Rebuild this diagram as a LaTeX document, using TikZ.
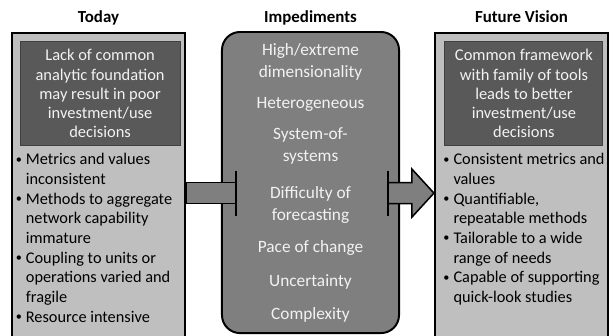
\documentclass[tikz,border=0pt]{standalone}
\usepackage{fontspec}
\setmainfont{Carlito}
\usetikzlibrary{positioning,calc}
\definecolor{panelgray}{RGB}{191,191,191}
\definecolor{notegray}{RGB}{89,89,89}
\definecolor{notedraw}{RGB}{64,64,64}
\definecolor{hubgray}{RGB}{127,127,127}
\definecolor{lighttext}{RGB}{242,242,242}
\newcommand{\itm}{\makebox[0.62em][l]{\raisebox{0.1em}{\scalebox{0.75}{\textbullet}}}}
\newcommand{\ind}{\makebox[0.62em]{}}

\begin{document}
\begin{tikzpicture}[x=0.025cm, y=-0.025cm,
  font=\fontsize{11.6}{14}\selectfont,
  panel/.style={draw, line width=1.5pt, fill=panelgray, inner sep=0pt,
               minimum width=4.325cm, minimum height=8cm, anchor=north},
  note/.style={draw=notedraw, line width=0.8pt, fill=notegray, text=lighttext,
               align=center, inner sep=0pt, minimum height=2.6cm,
               font=\fontsize{11.7}{13.6}\selectfont},
  heading/.style={font=\fontsize{12}{14}\selectfont\bfseries, inner sep=0pt,
                  text depth=0pt},
  bullets/.style={align=left, inner sep=0pt},
  hub/.style={draw, line width=1.4pt, fill=hubgray, rounded corners=0.45cm,
              minimum width=4.425cm, minimum height=7.525cm, anchor=north},
  blockarrow/.style={draw, line width=1.1pt, fill=hubgray},
  tee/.style={draw, line width=1.4pt},
  ]
  \useasboundingbox (0,0) rectangle (610,335);
  \clip (0,0) rectangle (610,335);

  % the three columns
  \node[panel] (today) at (98.5,32) {};
  \node[panel] (vision) at (521.5,32) {};
  \node[hub] (imped) at (310.5,31) {};

  \node[heading, above=2.4mm of today] {Today};
  \node[heading, above=2.4mm of today.north -| imped] {Impediments};
  \node[heading, above=2.4mm of vision] {Future Vision};

  % dark summary boxes
  \node[note, minimum width=4cm, below=2.25mm of today.north, xshift=0.04cm] (lack)
    {Lack of common\\analytic foundation\\may result in poor\\investment/use\\decisions};
  \node[note, minimum width=3.95cm, below=2.25mm of vision.north, xshift=0.06cm] (framework)
    {Common framework\\with family of tools\\leads to better\\investment/use\\decisions};

  % bullet lists
  \node[bullets, below=1.75mm of lack.south west, anchor=north west, xshift=-0.1cm] (todaylist)
    {\itm Metrics and values\\
     \ind inconsistent\\
     \itm Methods to aggregate\\
     \ind network capability\\
     \ind immature\\
     \itm Coupling to units or\\
     \ind operations varied and\\
     \ind fragile\\
     \itm Resource intensive};
  \node[bullets, below=1.75mm of framework.south west, anchor=north west, xshift=-0.03cm] (visionlist)
    {\itm Consistent metrics and\\
     \ind values\\
     \itm Quantifiable,\\
     \ind repeatable methods\\
     \itm Tailorable to a wide\\
     \ind range of needs\\
     \itm Capable of supporting\\
     \ind quick-look studies};

  % impediments
  \node[align=center, inner sep=0pt, text=lighttext, font=\fontsize{12.3}{15.9}\selectfont,
        below=3mm of imped.north] (hurdles)
    {High/extreme\\dimensionality\\[6pt]
     Heterogeneous\\[6pt]
     System-of-\\systems\\[10pt]
     Difficulty of\\forecasting\\[7pt]
     Pace of change\\[8pt]
     Uncertainty\\[8pt]
     Complexity};

  % block arrows
  \coordinate (stop) at ($(today.east -| imped.west)+(15,0)$);
  \coordinate (start) at ($(vision.west -| imped.east)+(-12,0)$);
  \draw[blockarrow] ($(today.east)+(0,-10.5)$) -- ($(stop)+(0,-10.5)$)
    -- ($(stop)+(0,10.5)$) -- ($(today.east)+(0,10.5)$) -- cycle;
  \draw[tee] ($(stop)+(0,-22.5)$) -- ($(stop)+(0,22.5)$);
  \draw[blockarrow] ($(start)+(0,-10.5)$) -- ($(vision.west)+(-22,-10.5)$)
    -- ($(vision.west)+(-22,-24)$) -- (vision.west) -- ($(vision.west)+(-22,24)$)
    -- ($(vision.west)+(-22,10.5)$) -- ($(start)+(0,10.5)$) -- cycle;
  \draw[tee] ($(start)+(0,-22.5)$) -- ($(start)+(0,22.5)$);
\end{tikzpicture}
\end{document}
